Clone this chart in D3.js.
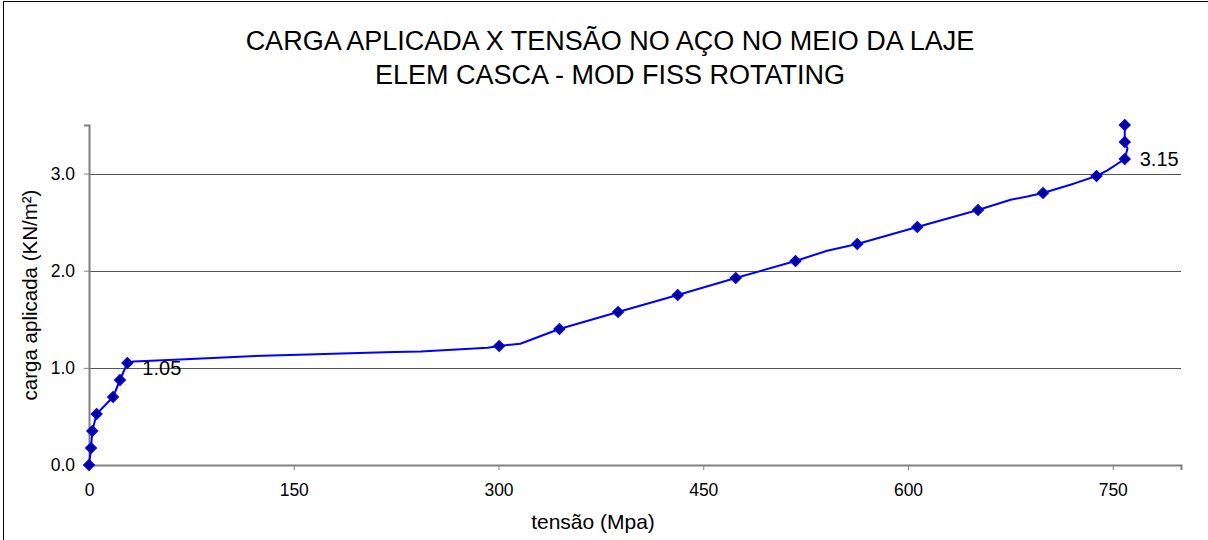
<!DOCTYPE html>
<html>
<head>
<meta charset="utf-8">
<script src="https://cdn.jsdelivr.net/npm/d3@7"></script>
<style>
  html, body { margin: 0; padding: 0; background: #fff; }
  svg { display: block; font-family: "Liberation Sans", Arial, sans-serif; }
</style>
</head>
<body>
<svg id="chart" width="1208" height="540"></svg>
<script>
// ---- data ----
const titleLines = ["CARGA APLICADA X TENSÃO NO AÇO NO MEIO DA LAJE", "ELEM CASCA - MOD FISS ROTATING"];
const xLabel = "tensão (Mpa)";
const yLabel = "carga aplicada (KN/m²)";
const xTicks = [0, 150, 300, 450, 600, 750];
const yTicks = [0, 1, 2, 3];
// full solver path (line)
const lineStress = [0, 1.5, 2.4, 5.6, 17.6, 22.7, 28.1, 32.5, 66.7, 118, 160, 204, 224, 243, 279, 292,
  300.5, 316, 344.6, 387.6, 431.3, 473.8, 517.6, 540.8, 562.8, 606.8, 651.3, 675.2, 687.4, 698.9,
  721.4, 738.1, 746.1, 758.8, 760.8, 758.8, 758.8];
const lineLoad = [0, 0.175, 0.35, 0.525, 0.70, 0.875, 1.05, 1.065, 1.086, 1.12, 1.137, 1.155, 1.163, 1.169, 1.196, 1.207,
  1.225, 1.248, 1.4, 1.575, 1.75, 1.925, 2.1, 2.206, 2.275, 2.45, 2.625, 2.73, 2.764, 2.8,
  2.896, 2.975, 3.033, 3.15, 3.257, 3.325, 3.5];
// marked load steps
const markStress = [0, 1.5, 2.4, 5.6, 17.6, 22.7, 28.1, 300.5, 344.6, 387.6, 431.3, 473.8, 517.6,
  562.8, 606.8, 651.3, 698.9, 738.1, 758.8, 758.8, 758.8];
const markLoad = [0, 0.175, 0.35, 0.525, 0.70, 0.875, 1.05, 1.225, 1.4, 1.575, 1.75, 1.925, 2.1,
  2.275, 2.45, 2.625, 2.8, 2.975, 3.15, 3.325, 3.5];
const annotations = [{ x: 28.1, y: 1.05, text: "1.05", dy: 12 }, { x: 758.8, y: 3.15, text: "3.15", dy: 7 }];

// ---- drawing ----
const svg = d3.select("#chart");
const pL = 89, pR = 1181, pT = 125, pB = 465;
const x = d3.scaleLinear().domain([0, 800]).range([pL, pR]);
const y = d3.scaleLinear().domain([0, 3.5]).range([pB, pT]);
const FONT = "Liberation Sans, Arial, sans-serif";

// chart border
svg.append("rect").attr("x", 3.5).attr("y", 1.5).attr("width", 1300).attr("height", 700)
  .attr("fill", "none").attr("stroke", "#000").attr("stroke-width", 1);

// title
svg.append("g").selectAll("text").data(titleLines).join("text")
  .attr("x", 610).attr("y", (d, i) => 50 + i * 34)
  .attr("text-anchor", "middle").attr("font-size", 27).attr("fill", "#000")
  .text(d => d);

// gridlines
svg.append("g").selectAll("line").data(yTicks.filter(d => d > 0)).join("line")
  .attr("x1", pL).attr("x2", pR)
  .attr("y1", d => Math.round(y(d)) + 0.5).attr("y2", d => Math.round(y(d)) + 0.5)
  .attr("stroke", "#555").attr("stroke-width", 1);

// axes
const xAxis = d3.axisBottom(x).tickValues(xTicks).tickSize(5).tickPadding(14).tickFormat(d3.format("d"));
const gx = svg.append("g").attr("transform", `translate(0,${pB})`).call(xAxis);
gx.select(".domain").attr("stroke", "#808080").attr("stroke-width", 2);
gx.selectAll(".tick line").attr("stroke", "#808080");
gx.selectAll(".tick text").attr("font-size", 17.5).attr("fill", "#000").attr("font-family", FONT);

const yAxis = d3.axisLeft(y).tickValues(yTicks).tickSize(5).tickPadding(9).tickFormat(d3.format(".1f"));
const gy = svg.append("g").attr("transform", `translate(${pL},0)`).call(yAxis);
gy.select(".domain").attr("stroke", "#808080").attr("stroke-width", 2);
gy.selectAll(".tick line").attr("stroke", "#808080");
gy.selectAll(".tick text").attr("font-size", 17.5).attr("fill", "#000").attr("font-family", FONT);

// axis titles
svg.append("text").attr("x", 593).attr("y", 529).attr("text-anchor", "middle")
  .attr("font-size", 21).attr("fill", "#000").text(xLabel);
svg.append("text").attr("transform", `translate(37,295) rotate(-90)`)
  .attr("text-anchor", "middle").attr("font-size", 20.5).attr("fill", "#000").text(yLabel);

// line
const linePts = lineStress.map((s, i) => [s, lineLoad[i]]);
svg.append("path").datum(linePts)
  .attr("d", d3.line().x(d => x(d[0])).y(d => y(d[1])))
  .attr("fill", "none").attr("stroke", "#0000ff").attr("stroke-width", 2).attr("stroke-linejoin", "round");

// markers
const markPts = markStress.map((s, i) => [s, markLoad[i]]);
svg.append("g").selectAll("path").data(markPts).join("path")
  .attr("transform", d => `translate(${x(d[0])},${y(d[1])})`)
  .attr("d", d3.symbol().type(d3.symbolDiamond2).size(70))
  .attr("fill", "#000080").attr("stroke", "#0000ff").attr("stroke-width", 1.5);

// annotations
svg.append("g").selectAll("text").data(annotations).join("text")
  .attr("x", d => x(d.x) + 15).attr("y", d => y(d.y) + d.dy)
  .attr("font-size", 20).attr("fill", "#000").text(d => d.text);
</script>
</body>
</html>
